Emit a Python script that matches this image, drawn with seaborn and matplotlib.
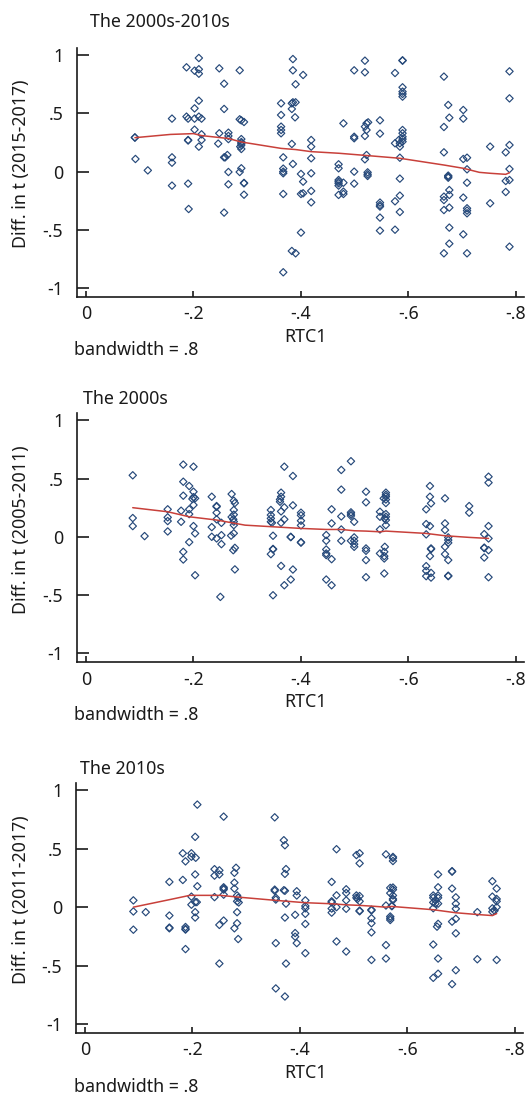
import matplotlib
matplotlib.use("Agg")
import matplotlib.pyplot as plt
import seaborn as sns
import numpy as np

# ---------------- data ----------------
titles = ["The 2000s-2010s", "The 2000s", "The 2010s"]
ylabels = ["Diff. in t (2015-2017)", "Diff. in t (2005-2011)", "Diff. in t (2011-2017)"]
xlabel = "RTC1"
note = "bandwidth = .8"
xticks = [0, -0.2, -0.4, -0.6, -0.8]
xticklabels = ["0", "-.2", "-.4", "-.6", "-.8"]
yticks = [-1, -0.5, 0, 0.5, 1]
yticklabels = ["-1", "-.5", "0", ".5", "1"]

# Panel 1: The 2000s-2010s
p1_x = [-0.091, -0.091, -0.092, -0.115, -0.160, -0.160, -0.160, -0.160, -0.187, -0.190, -0.187, -0.190, -0.190, -0.190, -0.191,
        -0.202, -0.202, -0.202, -0.202, -0.210, -0.210, -0.210, -0.210, -0.210, -0.215, -0.215, -0.215, -0.210, -0.248, -0.248,
        -0.246, -0.257, -0.257, -0.257, -0.259, -0.263, -0.257, -0.265, -0.265, -0.265, -0.265, -0.265, -0.286, -0.286, -0.289,
        -0.294, -0.289, -0.289, -0.289, -0.289, -0.287, -0.289, -0.286, -0.289, -0.294, -0.294, -0.294, -0.363, -0.363, -0.363,
        -0.363, -0.363, -0.367, -0.367, -0.367, -0.367, -0.367, -0.367, -0.385, -0.385, -0.383, -0.385, -0.390, -0.383, -0.390,
        -0.389, -0.383, -0.385, -0.383, -0.390,
        -0.404, -0.400, -0.404, -0.400, -0.404, -0.400, -0.419, -0.419, -0.419, -0.419, -0.419, -0.419, -0.470, -0.470, -0.470,
        -0.470, -0.470, -0.470, -0.470, -0.479, -0.479, -0.479, -0.479, -0.499, -0.499, -0.499, -0.499, -0.499, -0.519, -0.519,
        -0.519, -0.522, -0.525, -0.519, -0.522, -0.522, -0.519, -0.524, -0.524, -0.524, -0.547, -0.547, -0.547, -0.547, -0.547,
        -0.547, -0.547, -0.575, -0.575, -0.575, -0.575, -0.582, -0.584, -0.584, -0.584, -0.584, -0.584, -0.584, -0.589, -0.589,
        -0.589, -0.589, -0.589, -0.589, -0.589, -0.589, -0.589, -0.589, -0.589, -0.666, -0.674, -0.676, -0.666, -0.666, -0.674,
        -0.674, -0.674, -0.676, -0.676, -0.666, -0.666, -0.666, -0.676, -0.676, -0.676, -0.666, -0.702, -0.702, -0.702, -0.709,
        -0.709, -0.709, -0.702, -0.709, -0.709, -0.709, -0.702, -0.709, -0.752, -0.752, -0.781, -0.781, -0.781, -0.788, -0.788,
        -0.788, -0.788, -0.788, -0.788]
p1_y = [0.295, 0.292, 0.109, 0.011, 0.456, 0.123, 0.077, -0.120, 0.897, 0.456, 0.473, 0.272, 0.268, -0.103, -0.321,
        0.868, 0.544, 0.456, 0.361, 0.977, 0.880, 0.842, 0.610, 0.473, 0.456, 0.321, 0.272, 0.215, 0.888, 0.330,
        0.241, 0.756, 0.539, 0.123, 0.123, 0.143, -0.352, 0.335, 0.307, 0.280, -0.003, -0.109, 0.871, 0.450, 0.441,
        0.427, 0.280, 0.255, 0.244, 0.229, 0.215, 0.195, -0.003, 0.029, -0.100, -0.097, -0.198, 0.587, 0.487, 0.387,
        0.358, 0.330, 0.123, 0.026, 0.000, -0.014, -0.192, -0.865, 0.968, 0.871, 0.587, 0.596, 0.596, 0.539, 0.751,
        0.467, 0.238, 0.066, -0.682, -0.702,
        0.831, -0.020, -0.086, -0.192, -0.186, -0.524, 0.272, 0.215, 0.115, -0.014, -0.166, -0.264, 0.063, 0.029, -0.072,
        -0.086, -0.100, -0.120, -0.200, 0.415, -0.095, -0.172, -0.192, 0.871, 0.300, 0.287, 0.000, -0.103, 0.954, 0.854,
        0.387, 0.415, 0.424, 0.307, 0.358, 0.143, 0.106, -0.006, -0.023, -0.037, 0.441, 0.327, -0.266, -0.287, -0.300,
        -0.395, -0.507, 0.848, 0.244, -0.255, -0.499, 0.272, 0.244, 0.215, 0.120, -0.060, -0.206, -0.347, 0.957, 0.954,
        0.725, 0.688, 0.668, 0.645, 0.358, 0.330, 0.300, 0.280, 0.258, 0.817, 0.573, 0.464, 0.384, 0.166, -0.034,
        -0.043, -0.052, -0.158, -0.200, -0.215, -0.244, -0.330, -0.309, -0.481, -0.619, -0.702, 0.530, 0.456, 0.109, 0.120,
        0.020, -0.095, -0.223, -0.315, -0.335, -0.358, -0.539, -0.702, 0.215, -0.272, 0.166, -0.080, -0.175, 0.862, 0.630,
        0.229, 0.023, -0.072, -0.645]
p1_fit_x = [-0.091, -0.157, -0.200, -0.215, -0.265, -0.289, -0.363, -0.390, -0.419, -0.471, -0.524, -0.584, -0.666,
            -0.702, -0.732, -0.752, -0.781, -0.788]
p1_fit_y = [0.292, 0.320, 0.327, 0.310, 0.285, 0.255, 0.200, 0.190, 0.172, 0.158, 0.138, 0.115, 0.057,
            0.029, -0.006, -0.014, -0.023, -0.009]

# Panel 2: The 2000s
p2_x = [-0.087, -0.087, -0.087, -0.109, -0.152, -0.152, -0.152, -0.152, -0.181, -0.200, -0.181, -0.192, -0.181, -0.200,
        -0.200, -0.203, -0.198, -0.200, -0.192, -0.177, -0.192, -0.177, -0.181, -0.181, -0.200, -0.203, -0.192, -0.203,
        -0.234, -0.243, -0.243, -0.243, -0.243, -0.234, -0.252, -0.234, -0.243, -0.252, -0.252, -0.250, -0.271, -0.275,
        -0.277, -0.275, -0.275, -0.271, -0.274, -0.275, -0.270, -0.275, -0.275, -0.274, -0.277, -0.277,
        -0.369, -0.385, -0.363, -0.363, -0.361, -0.361, -0.369, -0.363, -0.344, -0.344, -0.344, -0.344, -0.346, -0.363,
        -0.369, -0.385, -0.400, -0.400, -0.400, -0.400, -0.348, -0.381, -0.381, -0.400, -0.400, -0.348, -0.348, -0.344,
        -0.363, -0.385, -0.381, -0.369, -0.348, -0.457, -0.457, -0.447, -0.447, -0.447, -0.447, -0.447, -0.457, -0.447,
        -0.457, -0.493, -0.475, -0.475, -0.493, -0.493, -0.493, -0.475, -0.499, -0.475, -0.475, -0.499, -0.499, -0.499,
        -0.499, -0.493, -0.521, -0.521, -0.521, -0.521, -0.521, -0.521, -0.547, -0.547, -0.547, -0.547,
        -0.558, -0.558, -0.558, -0.558, -0.558, -0.554, -0.558, -0.558, -0.556, -0.558, -0.558, -0.556, -0.555, -0.555,
        -0.555, -0.555, -0.640, -0.640, -0.642, -0.633, -0.633, -0.640, -0.633, -0.642, -0.642, -0.640, -0.633, -0.633,
        -0.633, -0.642, -0.642, -0.668, -0.668, -0.668, -0.674, -0.674, -0.674, -0.668, -0.668, -0.674, -0.674, -0.674,
        -0.713, -0.713, -0.749, -0.749, -0.749, -0.741, -0.749, -0.741, -0.741, -0.749, -0.741, -0.749]
p2_y = [0.528, 0.161, 0.092, 0.006, 0.236, 0.167, 0.135, 0.046, 0.620, 0.602, 0.473, 0.436, 0.353, 0.387,
        0.340, 0.330, 0.325, 0.273, 0.236, 0.224, 0.195, 0.129, -0.129, -0.195, 0.092, 0.029, -0.046, -0.330,
        0.344, 0.264, 0.258, 0.207, 0.150, 0.083, 0.120, 0.000, -0.014, 0.014, -0.063, -0.516, 0.367, 0.310,
        0.290, 0.230, 0.190, 0.170, 0.150, 0.130, 0.010, 0.030, 0.100, -0.115, -0.095, -0.280,
        0.602, 0.522, 0.379, 0.344, 0.321, 0.301, 0.253, 0.218, 0.230, 0.187, 0.158, 0.129, 0.120, 0.120,
        0.150, 0.270, 0.207, 0.184, 0.138, 0.098, 0.009, 0.000, -0.003, -0.046, -0.050, -0.104, -0.108, -0.149,
        -0.250, -0.281, -0.367, -0.416, -0.502, 0.236, 0.115, 0.015, -0.034, -0.109, -0.143, -0.157, -0.192, -0.367,
        -0.416, 0.649, 0.574, 0.405, 0.210, 0.195, 0.180, 0.175, 0.129, 0.063, -0.034, -0.005, -0.034, -0.063,
        -0.086, -0.034, 0.387, 0.296, -0.100, -0.120, -0.200, -0.347, 0.215, 0.172, 0.063, -0.143,
        0.379, 0.360, 0.345, 0.320, 0.290, 0.330, 0.195, 0.172, 0.158, 0.144, 0.100, -0.086, -0.129, -0.166,
        -0.186, -0.315, 0.436, 0.344, 0.287, 0.236, 0.109, 0.092, 0.021, -0.100, -0.106, -0.166, -0.252, -0.292,
        -0.338, -0.310, -0.350, 0.330, 0.115, 0.058, -0.005, -0.028, -0.052, -0.086, -0.149, -0.200, -0.334, -0.338,
        0.264, 0.207, 0.516, 0.465, 0.092, 0.023, -0.014, -0.093, -0.097, -0.115, -0.178, -0.347]
p2_fit_x = [-0.087, -0.152, -0.192, -0.243, -0.296, -0.348, -0.400, -0.447, -0.475, -0.499, -0.521, -0.547,
            -0.558, -0.633, -0.668, -0.713, -0.749]
p2_fit_y = [0.250, 0.215, 0.172, 0.144, 0.100, 0.086, 0.072, 0.063, 0.063, 0.052, 0.049, 0.043,
            0.049, 0.029, 0.009, -0.005, -0.014]

# Panel 3: The 2010s
p3_x = [-0.209, -0.258, -0.205, -0.182, -0.198, -0.198, -0.206, -0.187, -0.205, -0.241, -0.250, -0.241, -0.250,
        -0.281, -0.278, -0.157, -0.182, -0.209, -0.258, -0.258, -0.258, -0.278, -0.278, -0.283, -0.285, -0.283,
        -0.286, -0.258, -0.241, -0.198, -0.090, -0.090, -0.113, -0.090, -0.157, -0.157, -0.157, -0.187, -0.187,
        -0.187, -0.187, -0.198, -0.205, -0.208, -0.205, -0.205, -0.250, -0.258, -0.250, -0.283, -0.283, -0.278,
        -0.285,
        -0.353, -0.370, -0.372, -0.374, -0.372, -0.353, -0.353, -0.355, -0.355, -0.370, -0.372, -0.394, -0.394,
        -0.374, -0.410, -0.410, -0.410, -0.410, -0.391, -0.372, -0.410, -0.391, -0.391, -0.394, -0.355, -0.410,
        -0.374, -0.355, -0.372, -0.468, -0.459, -0.468, -0.459, -0.459, -0.459, -0.459, -0.468, -0.468, -0.486,
        -0.486, -0.486, -0.486, -0.486, -0.505, -0.511, -0.511, -0.505, -0.505, -0.507, -0.511, -0.511, -0.511,
        -0.511, -0.533, -0.533, -0.533, -0.533, -0.533, -0.533,
        -0.560, -0.573, -0.573, -0.573, -0.568, -0.573, -0.573, -0.568, -0.573, -0.573, -0.573, -0.560, -0.571,
        -0.571, -0.568, -0.568, -0.568, -0.560, -0.560, -0.648, -0.648, -0.652, -0.648, -0.652, -0.657, -0.657,
        -0.657, -0.657, -0.657, -0.648, -0.657, -0.655, -0.648, -0.657, -0.657, -0.648, -0.683, -0.683, -0.683,
        -0.690, -0.690, -0.690, -0.683, -0.690, -0.690, -0.690, -0.683, -0.730, -0.730, -0.758, -0.766, -0.758,
        -0.766, -0.766, -0.758, -0.766, -0.762, -0.758, -0.766]
p3_y = [0.878, 0.775, 0.602, 0.461, 0.461, 0.432, 0.423, 0.392, 0.280, 0.325, 0.315, 0.270, 0.280,
        0.337, 0.294, 0.216, 0.233, 0.179, 0.170, 0.160, 0.150, 0.210, 0.159, 0.100, 0.080, 0.050,
        0.040, 0.107, 0.086, 0.090, 0.058, -0.037, -0.043, -0.193, -0.072, -0.175, -0.181, -0.170, -0.186,
        -0.192, -0.359, 0.021, 0.043, 0.043, -0.043, -0.089, -0.152, -0.115, -0.483, -0.043, -0.138, -0.181,
        -0.273,
        0.769, 0.573, 0.530, 0.326, 0.285, 0.150, 0.140, 0.080, 0.065, 0.145, 0.140, 0.136, 0.100,
        0.030, 0.058, 0.010, -0.010, -0.057, -0.066, -0.089, -0.144, -0.222, -0.253, -0.308, -0.308, -0.394,
        -0.483, -0.696, -0.765, 0.496, 0.216, 0.101, 0.050, 0.040, -0.012, -0.047, 0.000, -0.294, 0.153,
        0.121, 0.058, -0.014, -0.380, 0.446, 0.461, 0.375, 0.100, 0.080, 0.070, 0.095, 0.050, -0.030,
        -0.035, -0.022, -0.028, -0.095, -0.138, -0.216, -0.452,
        0.452, 0.430, 0.420, 0.395, 0.165, 0.168, 0.150, 0.120, 0.100, 0.070, 0.060, 0.014, 0.012,
        0.008, -0.080, -0.095, -0.110, -0.325, -0.440, 0.100, 0.080, 0.060, 0.040, 0.030, 0.100, 0.080,
        0.030, 0.280, 0.170, -0.009, -0.143, -0.167, -0.320, -0.440, -0.570, -0.605, 0.308, 0.304, 0.159,
        0.084, 0.029, -0.014, -0.124, -0.100, -0.224, -0.540, -0.659, -0.043, -0.446, 0.222, 0.159, 0.090,
        0.070, 0.050, -0.010, 0.000, -0.030, -0.040, -0.452]
p3_fit_x = [-0.090, -0.157, -0.195, -0.252, -0.285, -0.355, -0.410, -0.459, -0.486, -0.511, -0.533, -0.559,
            -0.571, -0.648, -0.690, -0.730, -0.758, -0.766]
p3_fit_y = [0.000, 0.064, 0.101, 0.101, 0.086, 0.058, 0.038, 0.029, 0.020, 0.015, 0.009, 0.000,
            0.006, -0.022, -0.048, -0.063, -0.072, -0.055]

# ---------------- style ----------------
sns.set_style("white")
plt.rcParams["font.family"] = ["Noto Sans", "DejaVu Sans"]
plt.rcParams["axes.unicode_minus"] = False

W, H = 529, 1096
fig = plt.figure(figsize=(W / 100, H / 100), dpi=100)

NAVY = "#26497a"
RED = "#c8403a"
INK = "#1a1a1a"
FS = 12.8

# pixel geometry of each panel: (left, top, right, bottom), title (x, y), note y
panels = [
    dict(box=(76.7, 48.0, 524.0, 296.7), title_xy=(90.5, 21.7), note_y=350.0,
         x=p1_x, y=p1_y, fx=p1_fit_x, fy=p1_fit_y),
    dict(box=(76.7, 413.0, 524.0, 662.0), title_xy=(82.8, 399.0), note_y=715.0,
         x=p2_x, y=p2_y, fx=p2_fit_x, fy=p2_fit_y),
    dict(box=(75.7, 783.0, 523.0, 1032.7), title_xy=(80.0, 769.0), note_y=1086.7,
         x=p3_x, y=p3_y, fx=p3_fit_x, fy=p3_fit_y),
]

for i, p in enumerate(panels):
    l, t, r, b = p["box"]
    ax = fig.add_axes([l / W, 1 - b / H, (r - l) / W, (b - t) / H])
    sns.scatterplot(x=p["x"], y=p["y"], ax=ax, marker="D", s=14,
                    facecolors="none", edgecolor=NAVY, linewidth=0.85, zorder=3)
    sns.lineplot(x=p["fx"], y=p["fy"], ax=ax, sort=False, estimator=None,
                 color=RED, linewidth=1.1, zorder=4)
    ax.set_xlim(0.0173, -0.815)
    ax.set_ylim(-1.075, 1.063)
    ax.set_xticks(xticks)
    ax.set_xticklabels(xticklabels)
    ax.set_yticks(yticks)
    ax.set_yticklabels(yticklabels)
    for side in ["top", "right"]:
        ax.spines[side].set_visible(False)
    for side in ["left", "bottom"]:
        ax.spines[side].set_color(INK)
        ax.spines[side].set_linewidth(1.2)
    ax.tick_params(axis="y", direction="in", length=8.8, width=1.2, pad=9.6,
                   labelsize=FS, colors=INK, left=True)
    ax.tick_params(axis="x", direction="in", length=4.6, width=1.2, pad=6.3,
                   labelsize=FS, colors=INK, bottom=True)
    ax.set_xlabel(xlabel, fontsize=FS, color=INK)
    ax.xaxis.set_label_coords((305 - l) / (r - l), -31.0 / (b - t))
    ax.set_ylabel(ylabels[i], fontsize=FS, color=INK, va="center")
    ax.yaxis.set_label_coords((21 - l) / (r - l), 0.533)
    ax.grid(False)
    tx, ty = p["title_xy"]
    fig.text(tx / W, 1 - ty / H, titles[i], fontsize=FS, color=INK, ha="left", va="center")
    fig.text(73.6 / W, 1 - p["note_y"] / H, note, fontsize=FS, color=INK, ha="left", va="center")

fig.savefig("out.png", dpi=100, facecolor="white")
